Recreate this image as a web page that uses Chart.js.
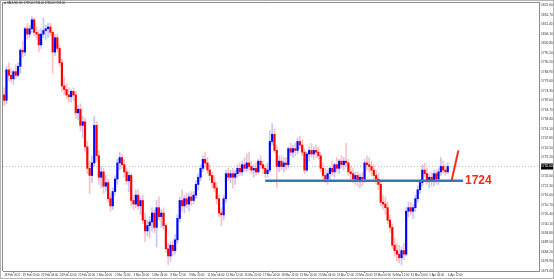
<!DOCTYPE html>
<html>
<head>
<meta charset="utf-8">
<script src="https://cdn.jsdelivr.net/npm/chart.js@4.4.0/dist/chart.umd.min.js"></script>
<style>
html, body { margin: 0; padding: 0; background: #fff; }
</style>
</head>
<body>
<canvas id="chart" width="554" height="279"></canvas>
<script>
// XAUUSD H4, 18 Feb 2021 12:00 .. 6 Apr 2021 12:00 (one entry per bar)
const opens = [
  1772,1769,1786,1783,1781,1785,1783,1788,1797,1796,
  1809,1806,1809,1814,1807,1806,1800,1806,1808,1809,
  1810,1807,1796,1804,1798,1790,1777,1775,1772,1771,
  1774,1772,1762,1764,1755,1757,1743,1731,1727,1734,
  1755,1738,1726,1729,1721,1723,1714,1710,1718,1725,
  1734,1737,1733,1729,1724,1727,1713,1711,1716,1710,
  1713,1702,1696,1699,1701,1706,1698,1709,1704,1706,
  1699,1686,1682,1688,1685,1691,1703,1713,1710,1714,
  1711,1715,1713,1716,1722,1726,1731,1736,1734,1730,
  1727,1723,1720,1714,1706,1705,1714,1728,1726,1728,
  1726,1728,1731,1729,1733,1731,1734,1732,1730,1731,
  1729,1735,1733,1731,1728,1730,1746,1750,1741,1732,
  1735,1732,1734,1733,1742,1740,1742,1741,1746,1744,
  1740,1730,1739,1741,1739,1741,1740,1738,1731,1727,
  1725,1728,1731,1729,1733,1731,1735,1733,1735,1734,
  1729,1728,1725,1727,1724,1726,1725,1734,1733,1732,
  1730,1727,1725,1722,1712,1711,1709,1702,1698,1688,
  1685,1683,1681,1685,1683,1707,1709,1707,1709,1714,
  1719,1723,1730,1728,1724,1726,1724,1728,1725,1729,
  1732,1730,1729
];
const highs = [
  1776,1788,1790,1787,1786,1789,1790,1798,1802,1810,
  1812,1811,1816,1815,1810,1808,1809,1815,1811,1812,
  1812,1808,1806,1806,1800,1792,1782,1778,1776,1775,
  1776,1774,1766,1767,1760,1759,1746,1735,1738,1760,
  1757,1741,1732,1731,1727,1725,1717,1720,1727,1736,
  1740,1739,1736,1731,1729,1728,1716,1719,1719,1715,
  1716,1706,1702,1704,1709,1708,1713,1715,1708,1709,
  1700,1689,1690,1691,1694,1705,1715,1719,1716,1717,
  1717,1718,1718,1724,1728,1733,1738,1740,1737,1733,
  1729,1727,1723,1716,1709,1716,1730,1731,1730,1731,
  1730,1733,1734,1735,1737,1739,1740,1735,1733,1734,
  1736,1738,1735,1733,1734,1752,1756,1753,1744,1738,
  1738,1737,1737,1743,1745,1744,1745,1748,1749,1747,
  1742,1740,1743,1745,1743,1744,1743,1740,1734,1731,
  1730,1732,1735,1734,1737,1736,1738,1737,1745,1736,
  1732,1731,1729,1729,1728,1729,1736,1738,1737,1735,
  1733,1730,1728,1724,1716,1715,1712,1705,1700,1692,
  1689,1688,1687,1689,1709,1712,1712,1711,1716,1721,
  1725,1733,1734,1731,1728,1729,1730,1730,1731,1737,
  1735,1733,1734
];
const lows = [
  1766,1767,1780,1779,1778,1781,1782,1784,1793,1794,
  1803,1804,1807,1805,1803,1796,1798,1804,1803,1804,
  1805,1784,1794,1796,1788,1774,1772,1770,1768,1768,
  1769,1759,1758,1752,1748,1740,1728,1717,1723,1732,
  1735,1722,1720,1717,1718,1712,1707,1708,1716,1722,
  1730,1731,1726,1722,1718,1710,1708,1709,1708,1705,
  1700,1690,1693,1692,1696,1695,1687,1702,1698,1697,
  1684,1677,1679,1682,1683,1689,1701,1707,1706,1709,
  1707,1710,1711,1714,1719,1724,1729,1731,1728,1724,
  1720,1718,1711,1704,1699,1702,1712,1724,1723,1720,
  1722,1726,1727,1727,1729,1729,1730,1728,1726,1727,
  1728,1731,1728,1726,1726,1729,1744,1740,1720,1729,
  1730,1729,1730,1731,1738,1737,1738,1739,1742,1738,
  1728,1729,1735,1737,1736,1737,1736,1729,1724,1723,
  1722,1724,1727,1726,1729,1728,1731,1730,1732,1727,
  1725,1723,1722,1721,1720,1721,1723,1730,1729,1727,
  1725,1722,1719,1710,1708,1705,1700,1695,1686,1682,
  1679,1678,1677,1680,1682,1704,1705,1703,1707,1712,
  1717,1721,1726,1722,1720,1721,1721,1722,1722,1727,
  1728,1727,1728
];
const closes = [
  1769,1786,1783,1781,1785,1783,1788,1797,1796,1809,
  1806,1809,1814,1807,1806,1800,1806,1808,1809,1810,
  1807,1796,1804,1798,1790,1777,1775,1772,1771,1774,
  1772,1762,1764,1755,1757,1743,1731,1727,1734,1755,
  1738,1726,1729,1721,1723,1714,1710,1718,1725,1734,
  1737,1733,1729,1724,1727,1713,1711,1716,1710,1713,
  1702,1696,1699,1701,1706,1698,1709,1704,1706,1699,
  1686,1682,1688,1685,1691,1703,1713,1710,1714,1711,
  1715,1713,1716,1722,1726,1731,1736,1734,1730,1727,
  1723,1720,1714,1706,1705,1714,1728,1726,1728,1726,
  1728,1731,1729,1733,1731,1734,1732,1730,1731,1729,
  1735,1733,1731,1728,1730,1746,1750,1741,1732,1735,
  1732,1734,1733,1742,1740,1742,1741,1746,1744,1740,
  1730,1739,1741,1739,1741,1740,1738,1731,1727,1725,
  1728,1731,1729,1733,1731,1735,1733,1735,1734,1729,
  1728,1725,1727,1724,1726,1725,1734,1733,1732,1730,
  1727,1725,1722,1712,1711,1709,1702,1698,1688,1685,
  1683,1681,1685,1683,1707,1709,1707,1709,1714,1719,
  1723,1730,1728,1724,1726,1724,1728,1725,1729,1732,
  1730,1729,1732
];

// time axis labels, one every 8 bars
const xTickBars = [0,8,16,24,32,40,48,56,64,72,80,88,96,104,112,120,128,136,144,152,160,168,176,184,192];
const xLabels = [
  '18 Feb 2021','19 Feb 20:00','23 Feb 04:00','24 Feb 12:00','25 Feb 20:00',
  '1 Mar 04:00','2 Mar 12:00','3 Mar 20:00','5 Mar 04:00','8 Mar 12:00',
  '9 Mar 20:00','11 Mar 04:00','12 Mar 12:00','15 Mar 20:00','17 Mar 04:00',
  '18 Mar 12:00','19 Mar 20:00','23 Mar 04:00','24 Mar 12:00','25 Mar 20:00',
  '29 Mar 04:00','30 Mar 12:00','31 Mar 20:00','5 Apr 04:00','6 Apr 12:00'
];
// price scale labels
const yTicks = [
  1673.6,1678.9,1684.2,1689.5,1694.8,1700.1,1705.4,1710.7,1716.0,1721.3,1726.6,
  1737.2,1742.5,1747.8,1753.1,1758.4,1763.7,1769.0,1774.3,1779.6,1784.9,1790.2,
  1795.5,1800.8,1806.1,1811.4,1816.7,1822.0
];
const bidPrice = 1732.0;

// drawn objects: support level and arrow (bar index, price)
const levelPrice = 1724;
const levelFrom = 113;
const levelTo = 198.6;
const arrowX = [193.7, 196.6];
const arrowY = [1724.4, 1741.0];

const bull = '#0000ff';
const bear = '#ff0000';
const isBull = i => closes[i] >= opens[i];

const wicks = lows.map((l, i) => ({ x: i, y: [l, highs[i]] }));
const bodies = opens.map((o, i) => ({ x: i, y: [o, closes[i]] }));

const mtFrame = {
    id: 'mtFrame',
    beforeDraw(chart) {
        const c = chart.ctx;
        c.save();
        c.fillStyle = '#fff';
        c.fillRect(0, 0, chart.width, chart.height);
        c.restore();
    },
    afterDraw(chart) {
        const c = chart.ctx;
        const a = chart.chartArea;
        const xs = chart.scales.x;
        const ys = chart.scales.y;
        c.save();
        // outer border and chart frame
        c.strokeStyle = '#b4b4b4';
        c.lineWidth = 1;
        c.strokeRect(0.5, 0.5, chart.width - 1, chart.height - 1);
        c.strokeStyle = '#8c8c8c';
        c.beginPath();
        c.moveTo(a.left - 0.5, a.bottom);
        c.lineTo(a.left - 0.5, a.top - 0.5);
        c.lineTo(a.right, a.top - 0.5);
        c.stroke();
        // symbol line top-left
        const n = closes.length - 1;
        c.fillStyle = '#222';
        c.beginPath();
        c.moveTo(4, 2.5); c.lineTo(6, 2.5); c.lineTo(5, 4.5); c.closePath();
        c.fill();
        c.font = '2.7px "Liberation Sans", Arial, sans-serif';
        c.textBaseline = 'middle';
        c.fillText('XAUUSD,H4  ' + [opens[n], highs[n], lows[n], closes[n]].map(v => v.toFixed(2)).join(' '), 7, 3.6);
        // level label
        c.fillStyle = '#ee2a1e';
        c.font = 'bold 12px "Liberation Sans", Arial, sans-serif';
        c.textBaseline = 'middle';
        c.fillText(String(levelPrice), xs.getPixelForValue(levelTo) + 2, ys.getPixelForValue(levelPrice));
        c.restore();
    }
};

const ctx = document.getElementById('chart').getContext('2d');
const chart = new Chart(ctx, {
    type: 'bar',
    data: {
        datasets: [
            {
                type: 'line',
                data: [{ x: -0.5, y: bidPrice }, { x: 231.5, y: bidPrice }],
                borderColor: '#bdbdbd',
                borderWidth: 1,
                borderDash: [1, 2],
                pointRadius: 0,
                order: 4
            },
            {
                data: wicks,
                backgroundColor: wicks.map((d, i) => isBull(i) ? 'rgba(90,90,255,0.35)' : 'rgba(255,80,80,0.35)'),
                barThickness: 1,
                grouped: false,
                order: 3
            },
            {
                data: bodies,
                backgroundColor: bodies.map((d, i) => isBull(i) ? bull : bear),
                barThickness: 1.5,
                minBarLength: 1,
                grouped: false,
                order: 2
            },
            {
                type: 'line',
                data: [{ x: levelFrom, y: levelPrice }, { x: levelTo, y: levelPrice }],
                borderColor: '#3d74ae',
                borderWidth: 2.5,
                pointRadius: 0,
                order: 1
            },
            {
                type: 'line',
                data: [{ x: arrowX[0], y: arrowY[0] }, { x: arrowX[1], y: arrowY[1] }],
                borderColor: '#ff2a1a',
                borderWidth: 2,
                pointRadius: 0,
                order: 0
            }
        ]
    },
    options: {
        responsive: false,
        animation: false,
        layout: { padding: { left: 3, top: 2, right: 0, bottom: 0 } },
        plugins: {
            legend: { display: false },
            tooltip: { enabled: false }
        },
        scales: {
            x: {
                type: 'linear',
                min: -0.5,
                max: 231.5,
                offset: false,
                grid: { drawOnChartArea: false, tickLength: 2, color: '#8c8c8c' },
                border: { color: '#8c8c8c' },
                ticks: {
                    autoSkip: false,
                    maxRotation: 0,
                    align: 'start',
                    padding: 0,
                    color: '#333',
                    font: { size: 2.9, family: '"Liberation Sans", Arial, sans-serif' },
                    callback: (v, i) => xLabels[i]
                },
                afterBuildTicks: s => { s.ticks = xTickBars.map(v => ({ value: v })); },
                afterFit: s => { s.height = 8; }
            },
            y: {
                position: 'right',
                min: 1673.6,
                max: 1823.4,
                grid: { drawOnChartArea: false, tickLength: 1, color: '#8c8c8c' },
                border: { color: '#8c8c8c' },
                ticks: {
                    autoSkip: false,
                    padding: 1,
                    color: c => c.tick && c.tick.value === bidPrice ? '#fff' : '#333',
                    showLabelBackdrop: c => !!(c.tick && c.tick.value === bidPrice),
                    backdropColor: '#000',
                    backdropPadding: { top: 1, bottom: 1, left: 0, right: 1 },
                    font: { size: 3.3, family: '"Liberation Sans", Arial, sans-serif' },
                    callback: v => Number(v).toFixed(2)
                },
                afterBuildTicks: s => {
                    s.ticks = yTicks.concat([bidPrice]).sort((a, b) => a - b).map(v => ({ value: v }));
                },
                afterFit: s => { s.width = 15; }
            }
        }
    },
    plugins: [mtFrame]
});
</script>
</body>
</html>
